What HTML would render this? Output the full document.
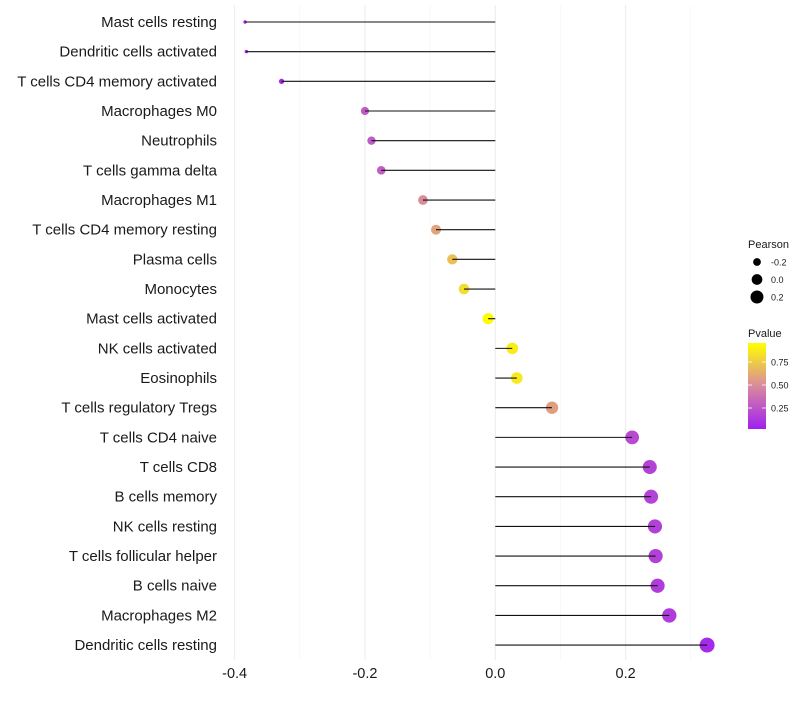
<!DOCTYPE html>
<html><head><meta charset="utf-8"><style>
body{margin:0;background:#fff;}
svg{font-family:"Liberation Sans",sans-serif;}
</style></head><body>
<svg id="chart" width="800" height="700" viewBox="0 0 800 700">
<defs>
<linearGradient id="pg" x1="0" y1="1" x2="0" y2="0">
<stop offset="0" stop-color="#A020F0"/><stop offset="0.5" stop-color="#D98A9E"/><stop offset="1" stop-color="#FFFF00"/>
</linearGradient>
</defs>
<g id="grid"></g>
<g id="marks"></g>
<g id="ylab"></g>
<g id="xlab"></g>
<g>
<text x="748" y="248" font-size="11" fill="#1a1a1a">Pearson</text>
<g id="sizeLeg"></g>
</g>
<g>
<text x="748" y="337" font-size="11" fill="#1a1a1a">Pvalue</text>
<rect x="748" y="343" width="18" height="86" fill="url(#pg)"/>
<g id="colLeg"></g>
</g>
</svg>
<script>
const categories=["Mast cells resting","Dendritic cells activated","T cells CD4 memory activated","Macrophages M0","Neutrophils","T cells gamma delta","Macrophages M1","T cells CD4 memory resting","Plasma cells","Monocytes","Mast cells activated","NK cells activated","Eosinophils","T cells regulatory  Tregs ","T cells CD4 naive","T cells CD8","B cells memory","NK cells resting","T cells follicular helper","B cells naive","Macrophages M2","Dendritic cells resting"];
const pearson=[-0.384,-0.382,-0.328,-0.200,-0.190,-0.175,-0.111,-0.091,-0.066,-0.048,-0.011,0.026,0.033,0.087,0.210,0.237,0.239,0.245,0.246,0.249,0.267,0.325];
const pvalue=[0.03,0.03,0.05,0.30,0.30,0.32,0.55,0.64,0.75,0.86,0.99,0.93,0.91,0.62,0.22,0.18,0.18,0.17,0.17,0.15,0.15,0.05];
const xTicks=[-0.4,-0.2,0.0,0.2];
const xTickLabels=["-0.4","-0.2","0.0","0.2"];
const minorTicks=[-0.3,-0.1,0.1,0.3];
const sizeLegVals=[-0.2,0.0,0.2];
const sizeLegLabels=["-0.2","0.0","0.2"];
const colLegVals=[0.25,0.5,0.75];
const colLegLabels=["0.25","0.50","0.75"];

const NS="http://www.w3.org/2000/svg";
const x=v=>495.3+v*651.7;
const y=i=>22+i*29.67;
const r=v=>Math.sqrt(Math.max(1,31.7+75*v));
const pv2y=p=>431-p*92;
function mix(a,b,t){return a.map((c,k)=>Math.round(c+(b[k]-c)*t));}
function col(p){const s=[[160,32,240],[214,128,170],[255,255,0]];
 const c=p<0.5?mix(s[0],s[1],p/0.5):mix(s[1],s[2],(p-0.5)/0.5);return `rgb(${c})`;}
function el(t,a,parent){const e=document.createElementNS(NS,t);for(const k in a)e.setAttribute(k,a[k]);document.getElementById(parent).appendChild(e);return e;}

minorTicks.forEach(v=>{const l=el('line',{x1:x(v),x2:x(v),y1:5,y2:660,stroke:'#f3f3f3','stroke-width':0.6},'grid');

});
xTicks.forEach((v,i)=>{const l=el('line',{x1:x(v),x2:x(v),y1:5,y2:660,stroke:'#ebebeb','stroke-width':1},'grid');


const t=el('text',{x:x(v),y:678,'font-size':14.5,'text-anchor':'middle',fill:'#1a1a1a'},'xlab');t.textContent=xTickLabels[i];

});
categories.forEach((c,i)=>{
 const t=el('text',{x:217,y:y(i)+5,'font-size':15,'text-anchor':'end',fill:'#1a1a1a','xml:space':'preserve'},'ylab');t.textContent=c;
 
 
 const ci=el('circle',{cx:x(pearson[i]),cy:y(i),r:r(pearson[i]),fill:col(pvalue[i])},'marks');
 
 
 const l=el('line',{x1:x(0),x2:x(pearson[i]),y1:y(i),y2:y(i),stroke:'#111','stroke-width':1.1},'marks');
 
 
});
sizeLegVals.forEach((v,i)=>{const cy=262+i*17.5;
 const c=el('circle',{cx:757,cy:cy,r:r(v)*0.95,fill:'#000'},'sizeLeg');
 
 
 const t=el('text',{x:771,y:cy+3.5,'font-size':9,fill:'#1a1a1a'},'sizeLeg');t.textContent=sizeLegLabels[i];
 
 });
colLegVals.forEach((v,i)=>{const yy=pv2y(v);
 const l=el('line',{x1:748,x2:752,y1:yy,y2:yy,stroke:'#fff','stroke-width':0.8},'colLeg');
 
 
 const l2=el('line',{x1:762,x2:766,y1:yy,y2:yy,stroke:'#fff','stroke-width':0.8},'colLeg');
 
 
 const t=el('text',{x:771,y:yy+3.5,'font-size':9,fill:'#1a1a1a'},'colLeg');t.textContent=colLegLabels[i];
 
 });
</script>
</body></html>
